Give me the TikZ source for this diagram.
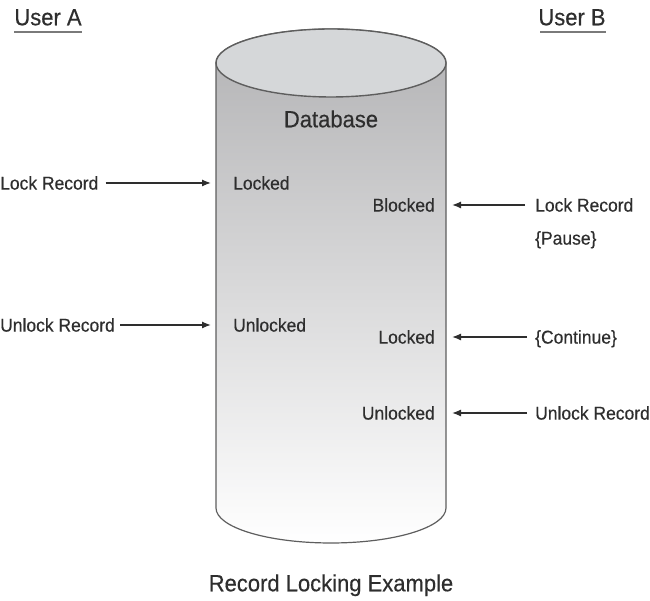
\documentclass[tikz,border=0pt]{standalone}
\usepackage{fontspec}
\setmainfont{Liberation Sans}[FakeStretch=0.94, FakeBold=0.4]
\usetikzlibrary{arrows.meta}
\definecolor{txt}{HTML}{2E2E2E}
\definecolor{rim}{HTML}{5E5E5E}
\definecolor{topfill}{HTML}{D5D7D9}
\definecolor{bodytop}{HTML}{B2B2B4}
\definecolor{ul}{HTML}{7A7A7A}
\begin{document}
\begin{tikzpicture}[x=1pt,y=1pt,
  lbl/.style={font=\fontsize{18.6}{21}\selectfont, text=txt, inner sep=0pt, text height=13.2pt, text depth=0pt},
  head/.style={font=\fontsize{23.4}{27}\selectfont, text=txt, inner sep=0pt, text height=16.6pt, text depth=0pt},
  conn/.style={draw=txt, line width=1.3pt, -{Latex[length=9pt,width=7pt]}},
  uline/.style={draw=ul, line width=2pt}
]
\useasboundingbox (0,0) rectangle (650,601);
% cylinder body
\path[top color=bodytop, bottom color=white, draw=rim, line width=1.2pt]
  (216,538) -- (216,93) arc[start angle=180,end angle=360,x radius=115,y radius=35]
  -- (446,538) arc[start angle=0,end angle=180,x radius=115,y radius=34] -- cycle;
\fill[topfill, draw=rim, line width=1.4pt] (331,538) ellipse[x radius=115, y radius=34];
% headings
\node[head] (ua) at (48,584) {User A};
\node[head] (ub) at (572,584) {User B};
\draw[uline] (14,569) -- (82,569);
\draw[uline] (540,569) -- (606,569);
\node[head] (db) at (331,482) {Database};
\node[head] (cap) at (331,18) {Record Locking Example};
% user A side
\node[lbl, anchor=west] (lockA) at (0,418) {Lock Record};
\node[lbl, anchor=west] (lockedA) at (233,418) {Locked};
\node[lbl, anchor=west] (unlockA) at (0,276) {Unlock Record};
\node[lbl, anchor=west] (unlockedA) at (233,276) {Unlocked};
% user B side
\node[lbl, anchor=east] (blocked) at (435,396) {Blocked};
\node[lbl, anchor=west] (lockB) at (535,396) {Lock Record};
\node[lbl, anchor=west] (pause) at (535,363) {\{Pause\}};
\node[lbl, anchor=east] (lockedB) at (435,264) {Locked};
\node[lbl, anchor=west] (cont) at (535,264) {\{Continue\}};
\node[lbl, anchor=east] (unlockedB) at (435,188) {Unlocked};
\node[lbl, anchor=west] (unlockB) at (535,188) {Unlock Record};
% connectors
\draw[conn, shorten <=7pt, shorten >=22pt] (lockA.east) -- (lockedA.west);
\draw[conn, shorten <=5pt, shorten >=22pt] (unlockA.east) -- (unlockedA.west);
\draw[conn, shorten <=10pt, shorten >=17pt] (lockB.west) -- (blocked.east);
\draw[conn, shorten <=8pt, shorten >=17pt] (cont.west) -- (lockedB.east);
\draw[conn, shorten <=8pt, shorten >=17pt] (unlockB.west) -- (unlockedB.east);
\end{tikzpicture}
\end{document}
